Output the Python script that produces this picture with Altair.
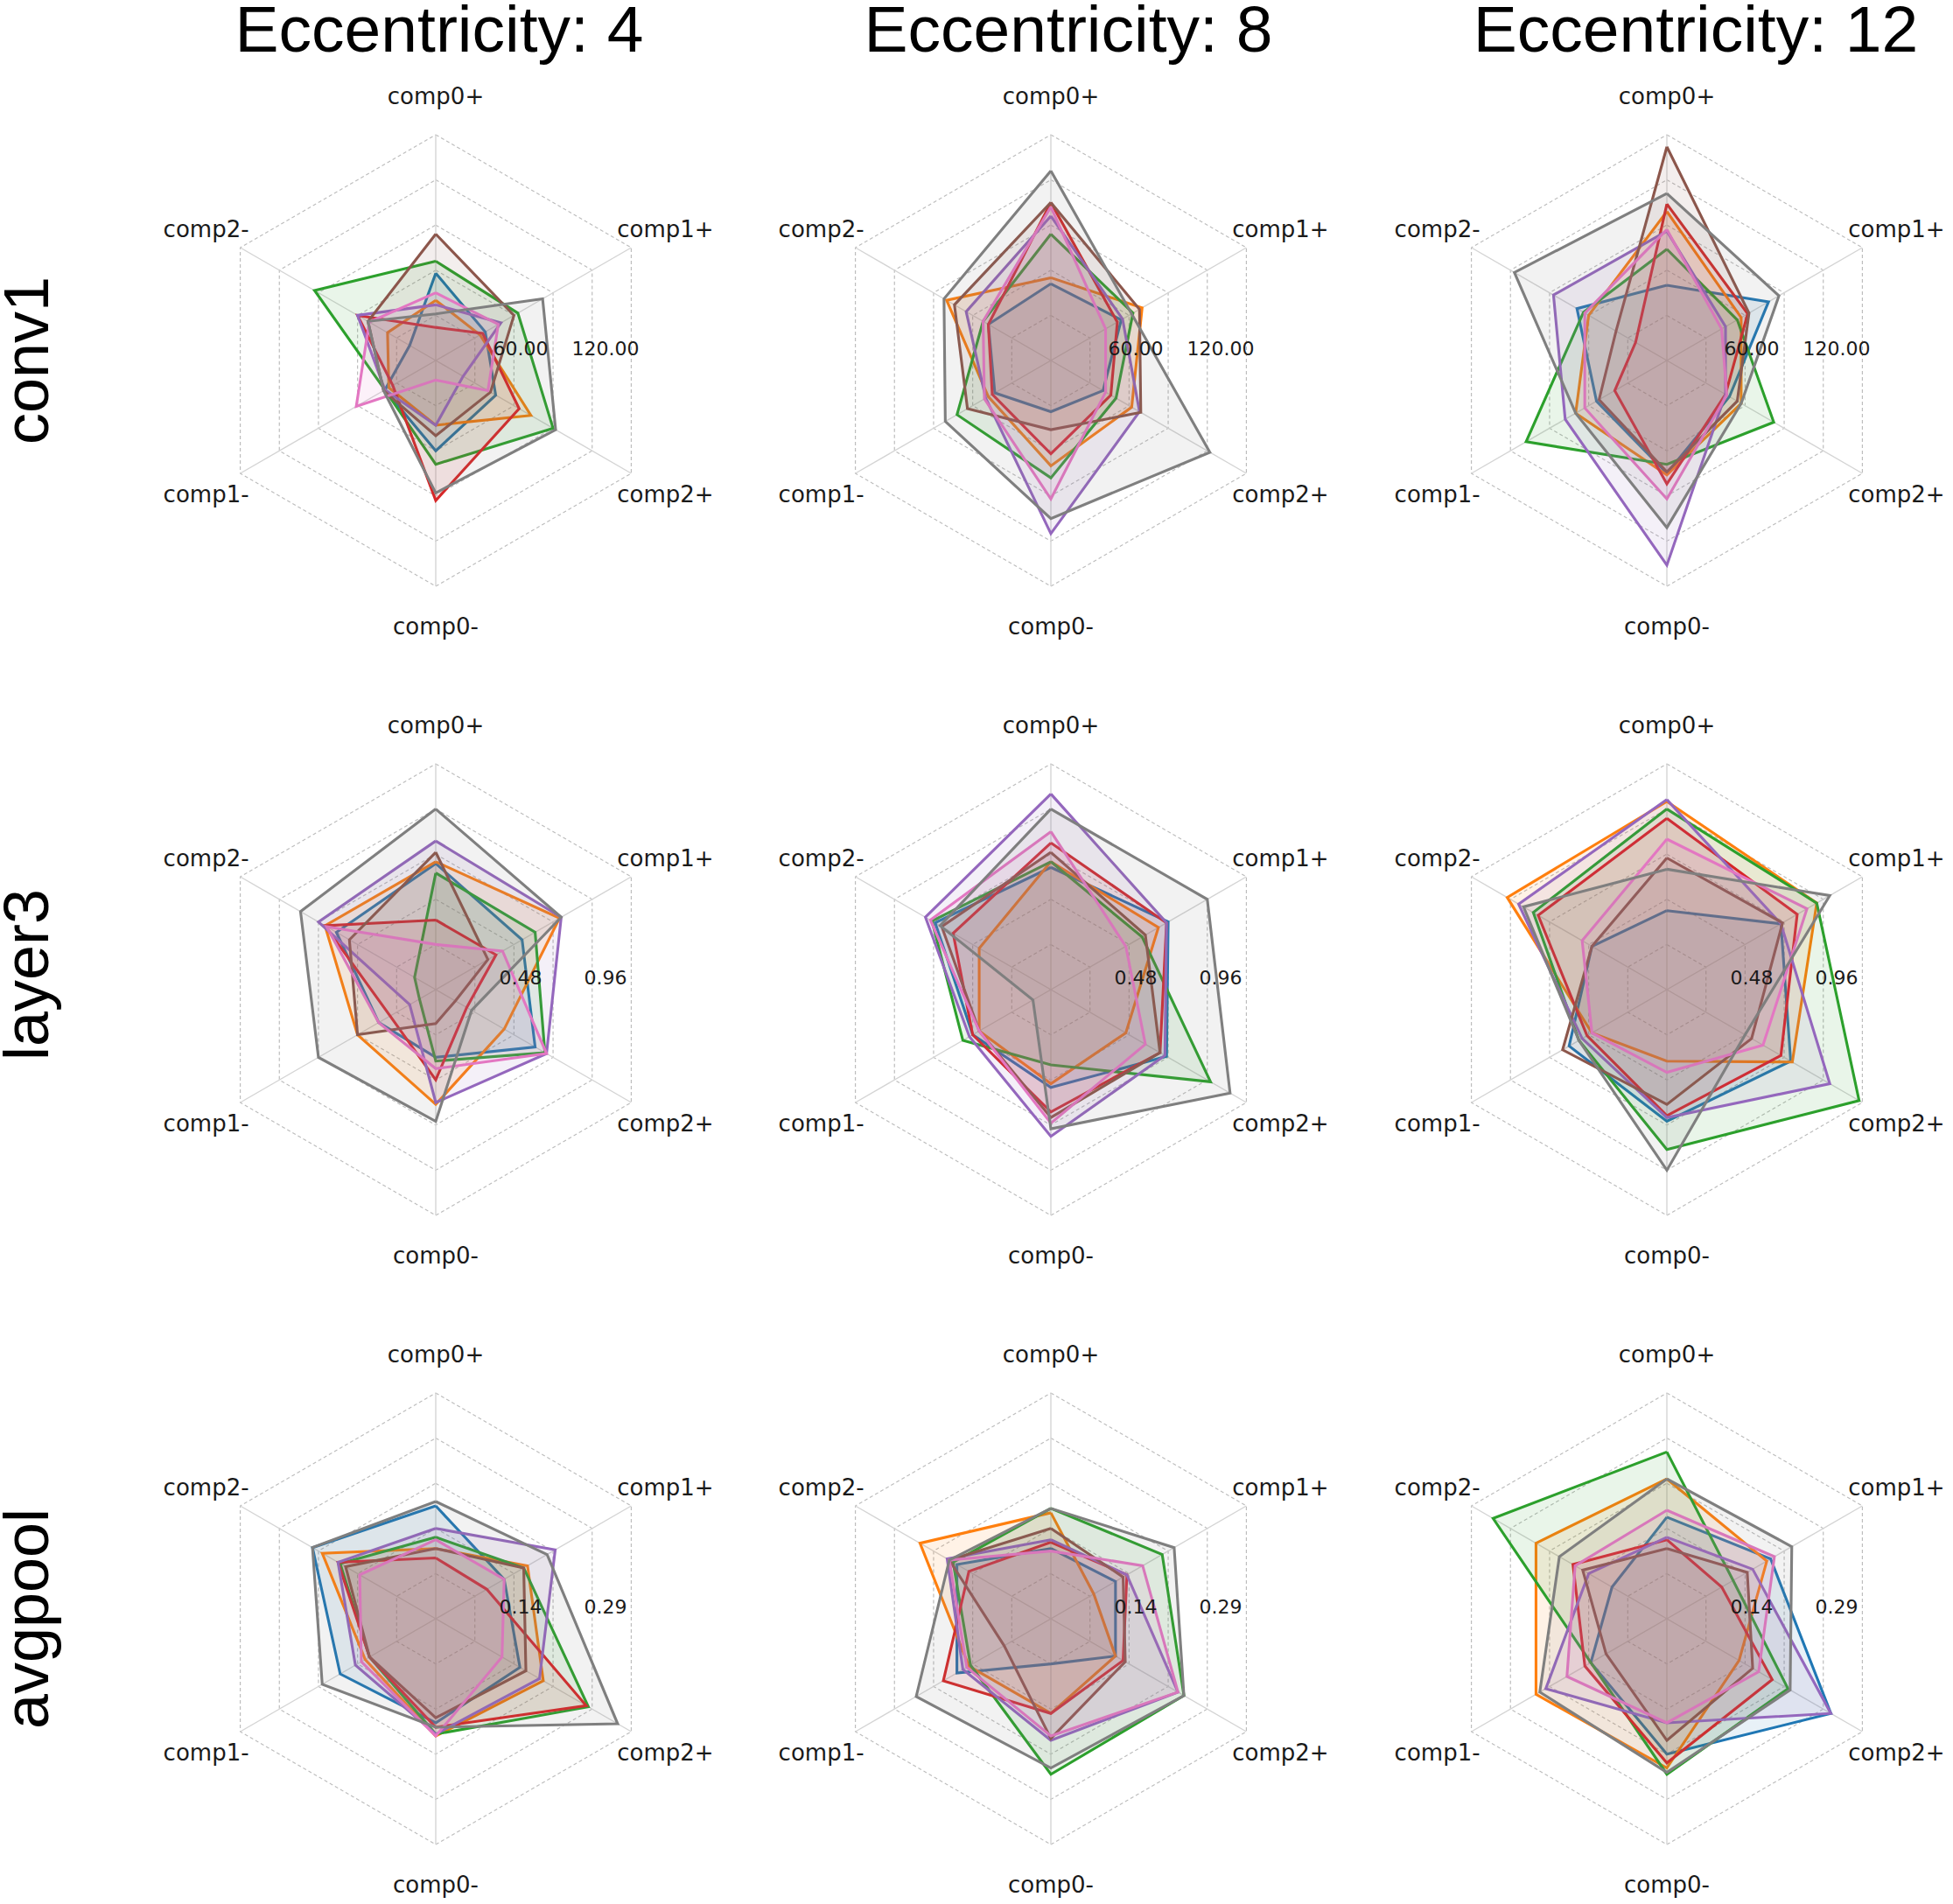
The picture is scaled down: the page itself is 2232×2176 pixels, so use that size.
import math

import altair as alt
import pandas as pd

# ---------------------------------------------------------------- data
AXES = ["comp0+", "comp1+", "comp2+", "comp0-", "comp1-", "comp2-"]
LAYERS = ["conv1", "layer3", "avgpool"]
ECCS = [4, 8, 12]
SERIES = ["s1", "s2", "s3", "s4", "s5", "s6", "s7", "s8"]
COLORS = ["#1f77b4", "#ff7f0e", "#2ca02c", "#d62728",
          "#9467bd", "#8c564b", "#e377c2", "#7f7f7f"]

# radial maximum of each row and the two labelled rings
RMAX = [150.0, 1.2, 0.36]
TICKS = [[60.0, 120.0], [0.48, 0.96], [0.144, 0.288]]

# one list per series, values in AXES order
CONV1_E4 = [
    [58, 38, 46, 60, 39, 20],
    [40, 34, 73, 43, 36, 37],
    [66, 63, 90, 69, 39, 93],
    [22, 36, 64, 93, 33, 60],
    [37, 50, 21, 43, 39, 60],
    [84, 60, 42, 50, 40, 52],
    [45, 48, 40, 13, 61, 51],
    [31, 82, 92, 88, 40, 52],
]
CONV1_E8 = [
    [51, 54, 40, 34, 43, 48],
    [55, 70, 62, 70, 48, 80],
    [84, 63, 50, 78, 72, 52],
    [105, 51, 46, 62, 45, 48],
    [96, 55, 68, 115, 50, 65],
    [105, 68, 69, 46, 64, 74],
    [102, 42, 42, 92, 51, 52],
    [126, 62, 122, 105, 81, 82],
]
CONV1_E12 = [
    [50, 78, 48, 75, 54, 69],
    [99, 57, 57, 76, 70, 60],
    [74, 54, 82, 69, 108, 64],
    [104, 62, 45, 82, 40, 24],
    [86, 45, 45, 136, 78, 87],
    [142, 63, 54, 74, 52, 39],
    [87, 42, 46, 92, 63, 63],
    [111, 86, 57, 111, 70, 117],
]
LAYER3_E4 = [
    [0.67, 0.53, 0.61, 0.36, 0.35, 0.61],
    [0.68, 0.76, 0.42, 0.61, 0.48, 0.68],
    [0.62, 0.61, 0.67, 0.38, 0.10, 0.13],
    [0.37, 0.37, 0.19, 0.48, 0.28, 0.68],
    [0.79, 0.77, 0.68, 0.60, 0.16, 0.72],
    [0.73, 0.32, 0.12, 0.18, 0.48, 0.53],
    [0.24, 0.41, 0.68, 0.42, 0.35, 0.67],
    [0.96, 0.77, 0.22, 0.70, 0.72, 0.83],
]
LAYER3_E8 = [
    [0.65, 0.72, 0.71, 0.52, 0.48, 0.71],
    [0.68, 0.66, 0.46, 0.50, 0.44, 0.44],
    [0.68, 0.56, 0.98, 0.40, 0.54, 0.73],
    [0.78, 0.71, 0.67, 0.65, 0.48, 0.60],
    [1.04, 0.71, 0.70, 0.78, 0.50, 0.77],
    [0.73, 0.58, 0.67, 0.68, 0.44, 0.67],
    [0.84, 0.46, 0.58, 0.71, 0.44, 0.74],
    [0.96, 0.96, 1.10, 0.74, 0.11, 0.68],
]
LAYER3_E12 = [
    [0.42, 0.70, 0.76, 0.70, 0.60, 0.46],
    [1.00, 0.92, 0.77, 0.38, 0.46, 0.98],
    [0.96, 0.92, 1.18, 0.85, 0.54, 0.82],
    [0.91, 0.80, 0.70, 0.67, 0.49, 0.79],
    [1.01, 0.70, 1.00, 0.68, 0.52, 0.91],
    [0.70, 0.71, 0.52, 0.61, 0.64, 0.46],
    [0.80, 0.86, 0.59, 0.44, 0.46, 0.52],
    [0.64, 1.00, 0.48, 0.96, 0.54, 0.88],
]
AVGPOOL_E4 = [
    [0.180, 0.126, 0.155, 0.166, 0.176, 0.227],
    [0.112, 0.169, 0.198, 0.187, 0.130, 0.209],
    [0.130, 0.162, 0.281, 0.184, 0.122, 0.176],
    [0.097, 0.094, 0.277, 0.173, 0.122, 0.180],
    [0.144, 0.220, 0.191, 0.184, 0.148, 0.180],
    [0.112, 0.162, 0.166, 0.158, 0.122, 0.166],
    [0.126, 0.126, 0.122, 0.187, 0.137, 0.140],
    [0.187, 0.205, 0.335, 0.173, 0.209, 0.227],
]
AVGPOOL_E8 = [
    [0.112, 0.119, 0.119, 0.072, 0.173, 0.173],
    [0.169, 0.079, 0.119, 0.151, 0.151, 0.241],
    [0.176, 0.205, 0.245, 0.248, 0.148, 0.180],
    [0.122, 0.140, 0.133, 0.151, 0.198, 0.151],
    [0.126, 0.140, 0.234, 0.194, 0.162, 0.191],
    [0.144, 0.133, 0.137, 0.191, 0.086, 0.187],
    [0.108, 0.169, 0.234, 0.187, 0.155, 0.187],
    [0.176, 0.227, 0.245, 0.238, 0.248, 0.187],
]
AVGPOOL_E12 = [
    [0.162, 0.191, 0.302, 0.216, 0.140, 0.101],
    [0.223, 0.184, 0.133, 0.238, 0.241, 0.241],
    [0.266, 0.122, 0.223, 0.248, 0.140, 0.320],
    [0.126, 0.101, 0.194, 0.230, 0.151, 0.173],
    [0.130, 0.158, 0.302, 0.166, 0.223, 0.144],
    [0.112, 0.148, 0.158, 0.194, 0.112, 0.155],
    [0.173, 0.198, 0.169, 0.166, 0.184, 0.169],
    [0.223, 0.230, 0.227, 0.245, 0.234, 0.198],
]

PANELS = [
    [CONV1_E4, CONV1_E8, CONV1_E12],
    [LAYER3_E4, LAYER3_E8, LAYER3_E12],
    [AVGPOOL_E4, AVGPOOL_E8, AVGPOOL_E12],
]

# ---------------------------------------------------------------- layout
W, H = 2232, 2176
COL_X = [498, 1201, 1905]
ROW_Y = [412, 1131, 1850]
TITLE_X = [502, 1221, 1938]
ROW_LABEL_Y = [412, 1114, 1850]
RADIUS = 258          # pixel radius of the outer ring
N_RINGS = 5
LABEL_PX = 303        # distance of the category labels from the centre

xs = alt.Scale(domain=[0, W], nice=False, zero=False)
ys = alt.Scale(domain=[0, H], nice=False, zero=False, reverse=True)


def X(field):
    return alt.X(f"{field}:Q", scale=xs, axis=None)


def Y(field):
    return alt.Y(f"{field}:Q", scale=ys, axis=None)


# ---------------------------------------------------------------- tables
poly_rows, ring_rows, spoke_rows, cat_rows, tick_rows = [], [], [], [], []
for r, layer in enumerate(LAYERS):
    for c, ecc in enumerate(ECCS):
        panel = f"{layer}-{ecc}"
        cx, cy = COL_X[c], ROW_Y[r]
        for s, name in enumerate(SERIES):
            vals = PANELS[r][c][s]
            for k in range(len(AXES) + 1):
                poly_rows.append(dict(panel=panel, series=name, k=k,
                                      value=vals[k % len(AXES)],
                                      vmax=RMAX[r], cx=cx, cy=cy))
        for j in range(1, N_RINGS + 1):
            for k in range(len(AXES) + 1):
                ring_rows.append(dict(ring=f"{panel}-{j}", k=k,
                                      frac=j / N_RINGS, cx=cx, cy=cy))
        for k, name in enumerate(AXES):
            spoke_rows.append(dict(k=k, cx=cx, cy=cy))
            cat_rows.append(dict(k=k, text=name, cx=cx, cy=cy))
        for t in TICKS[r]:
            tick_rows.append(dict(text=f"{t:.2f}", frac=t / RMAX[r],
                                  cx=cx, cy=cy))

poly_df = pd.DataFrame(poly_rows)
ring_df = pd.DataFrame(ring_rows)
spoke_df = pd.DataFrame(spoke_rows)
cat_df = pd.DataFrame(cat_rows)
tick_df = pd.DataFrame(tick_rows)
title_df = pd.DataFrame({"text": [f"Eccentricity: {e}" for e in ECCS],
                         "x": TITLE_X, "y": [59] * 3})
row_df = pd.DataFrame({"text": LAYERS, "x": [33] * 3, "y": ROW_LABEL_Y})

ANG = "datum.k * PI / 3"

rings = (
    alt.Chart(ring_df)
    .transform_calculate(
        px=f"datum.cx + datum.frac * {RADIUS} * sin({ANG})",
        py=f"datum.cy - datum.frac * {RADIUS} * cos({ANG})",
    )
    .mark_line(stroke="#bdbdbd", strokeWidth=1.2, strokeDash=[4, 3])
    .encode(x=X("px"), y=Y("py"), order="k:Q", detail="ring:N")
)

spokes = (
    alt.Chart(spoke_df)
    .transform_calculate(
        ex=f"datum.cx + {RADIUS} * sin({ANG})",
        ey=f"datum.cy - {RADIUS} * cos({ANG})",
    )
    .mark_rule(stroke="#d4d4d4", strokeWidth=1.4)
    .encode(x=X("cx"), y=Y("cy"), x2="ex:Q", y2="ey:Q")
)

color_scale = alt.Scale(domain=SERIES, range=COLORS)
polys = (
    alt.Chart(poly_df)
    .transform_calculate(
        px=f"datum.cx + datum.value / datum.vmax * {RADIUS} * sin({ANG})",
        py=f"datum.cy - datum.value / datum.vmax * {RADIUS} * cos({ANG})",
    )
    .mark_line(strokeWidth=3.1, fillOpacity=0.1, strokeJoin="miter")
    .encode(
        x=X("px"), y=Y("py"), order="k:Q",
        stroke=alt.Stroke("series:N", scale=color_scale, legend=None),
        fill=alt.Fill("series:N", scale=color_scale, legend=None),
        detail="panel:N",
    )
)

cats = (
    alt.Chart(cat_df)
    .transform_calculate(
        px=f"datum.cx + {LABEL_PX} * sin({ANG})",
        py=f"datum.cy - {LABEL_PX} * cos({ANG})",
    )
    .mark_text(font="DejaVu Sans", fontSize=26, color="#1a1a1a",
               align="center", baseline="middle", dy=2)
    .encode(x=X("px"), y=Y("py"), text="text:N")
)

ticks = (
    alt.Chart(tick_df)
    .transform_calculate(
        px=f"datum.cx + 0.94 * datum.frac * {RADIUS}",
        py="datum.cy - 13",
    )
    .mark_text(font="DejaVu Sans", fontSize=22, color="#1a1a1a",
               align="center", baseline="middle")
    .encode(x=X("px"), y=Y("py"), text="text:N")
)

titles = (
    alt.Chart(title_df)
    .mark_text(font="Liberation Sans", fontSize=75, color="black",
               align="center", baseline="alphabetic")
    .encode(x=X("x"), y=Y("y"), text="text:N")
)

row_titles = (
    alt.Chart(row_df)
    .mark_text(font="Liberation Sans", fontSize=72, color="black",
               align="center", baseline="middle", angle=270)
    .encode(x=X("x"), y=Y("y"), text="text:N")
)

chart = (
    alt.layer(rings, spokes, polys, ticks, cats, titles, row_titles)
    .properties(width=W, height=H, padding=0,
                autosize=alt.AutoSizeParams(type="none"),
                background="white")
    .configure_view(strokeWidth=0)
)

chart.save("out.html", embed_options={"renderer": "svg", "actions": False})
